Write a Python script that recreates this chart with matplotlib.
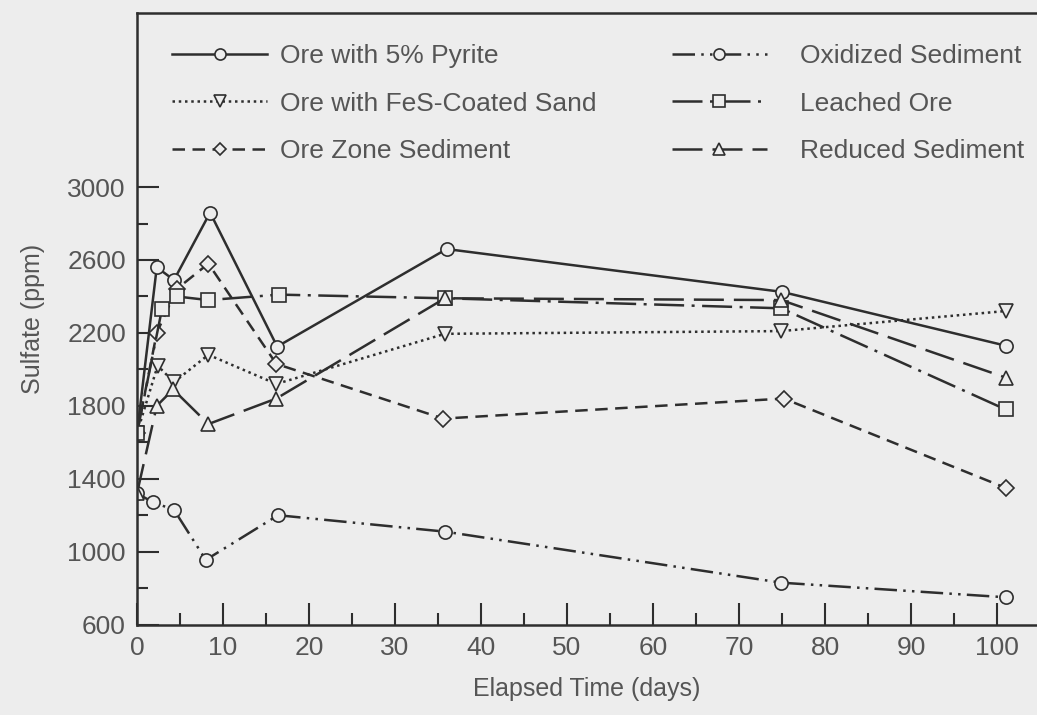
import numpy as np
import matplotlib.pyplot as plt
from matplotlib.ticker import FixedLocator
from matplotlib.lines import Line2D

plt.rcParams['font.family'] = ['Liberation Sans', 'DejaVu Sans']

# series (days, sulfate ppm)
pyr_t = [0, 2.3, 4.3, 8.5, 16.3, 36.0, 75.0, 101]
pyr_v = [1650, 2560, 2490, 2860, 2125, 2660, 2425, 2130]
fes_t = [0, 2.4, 4.3, 8.3, 16.2, 35.8, 74.9, 101]
fes_v = [1650, 2020, 1930, 2080, 1920, 2195, 2210, 2320]
ozs_t = [0, 2.3, 4.6, 8.3, 16.2, 35.6, 75.2, 101]
ozs_v = [1650, 2200, 2440, 2580, 2030, 1730, 1840, 1350]
oxi_t = [0, 1.9, 4.3, 8.0, 16.4, 35.8, 74.9, 101]
oxi_v = [1320, 1270, 1230, 955, 1200, 1110, 830, 750]
lea_t = [0, 2.9, 4.6, 8.3, 16.5, 35.8, 74.9, 101]
lea_v = [1650, 2330, 2400, 2380, 2410, 2390, 2335, 1780]
red_t = [0, 2.3, 4.2, 8.3, 16.2, 35.8, 74.9, 101]
red_v = [1320, 1800, 1890, 1700, 1840, 2390, 2380, 1955]

bg = '#ededed'
ink = '#2e2e2e'
txt = '#555555'

fig = plt.figure(figsize=(10.37, 7.15), dpi=100, facecolor=bg)
ax = fig.add_axes([0.1321, 0.1259, 0.868, 0.856])
ax.set_facecolor(bg)

mk = dict(color=ink, lw=1.8, mfc=bg, mec=ink, mew=1.2)
styles = [
    ('Ore with 5% Pyrite', pyr_t, pyr_v, '-', 'o'),
    ('Ore with FeS-Coated Sand', fes_t, fes_v, (0, (1, 1.5)), 'v'),
    ('Ore Zone Sediment', ozs_t, ozs_v, (0, (5, 3)), 'D'),
    ('Oxidized Sediment', oxi_t, oxi_v, (0, (9, 2.5, 1, 2.5, 1, 2.5)), 'o'),
    ('Leached Ore', lea_t, lea_v, (0, (12, 3, 1.2, 3)), 's'),
    ('Reduced Sediment', red_t, red_v, (0, (12, 4)), '^'),
]
handles = []
for lab, t, v, ls, m in styles:
    ms = 8 if m == 'D' else 9.5
    ax.plot(t, v, linestyle=ls, marker=m, ms=ms, **mk)
    handles.append(Line2D([], [], linestyle=ls, marker=m, markevery=[1],
                          label=lab, ms=ms - 1.5, **mk))

ax.set_xlim(0, 104.65)
ax.set_ylim(598, 3955)

ax.xaxis.set_major_locator(FixedLocator(np.arange(0, 101, 10)))
ax.xaxis.set_minor_locator(FixedLocator(np.arange(5, 100, 10)))
ax.yaxis.set_major_locator(FixedLocator(np.arange(600, 3001, 400)))
ax.yaxis.set_minor_locator(FixedLocator(np.arange(800, 2900, 400)))
ax.tick_params(axis='x', which='major', direction='in', length=16, width=1.5, color=ink,
               labelsize=19, labelcolor=txt, pad=8)
ax.tick_params(axis='x', which='minor', direction='in', length=9, width=1.5, color=ink)
ax.tick_params(axis='y', which='major', direction='in', length=16, width=1.5, color=ink,
               labelsize=19, labelcolor=txt, pad=8)
ax.tick_params(axis='y', which='minor', direction='in', length=8, width=1.5, color=ink)

for s in ['left', 'bottom', 'top']:
    ax.spines[s].set_color(ink)
    ax.spines[s].set_linewidth(1.8)
ax.spines['right'].set_visible(False)

ax.set_xlabel('Elapsed Time (days)', fontsize=18, color=txt, labelpad=12)
ax.set_ylabel('Sulfate (ppm)', fontsize=18, color=txt, labelpad=16)

leg_kw = dict(frameon=False, fontsize=19, labelcolor=txt, handlelength=3.6,
              labelspacing=0.88, borderpad=0, borderaxespad=0, loc='upper left')
leg1 = ax.legend(handles=handles[:3], bbox_to_anchor=(0.039, 0.9485),
                 handletextpad=0.5, **leg_kw)
ax.add_artist(leg1)
ax.legend(handles=handles[3:], bbox_to_anchor=(0.594, 0.9485),
          handletextpad=1.25, **leg_kw)

fig.savefig('out.png', dpi=100, facecolor=bg)
